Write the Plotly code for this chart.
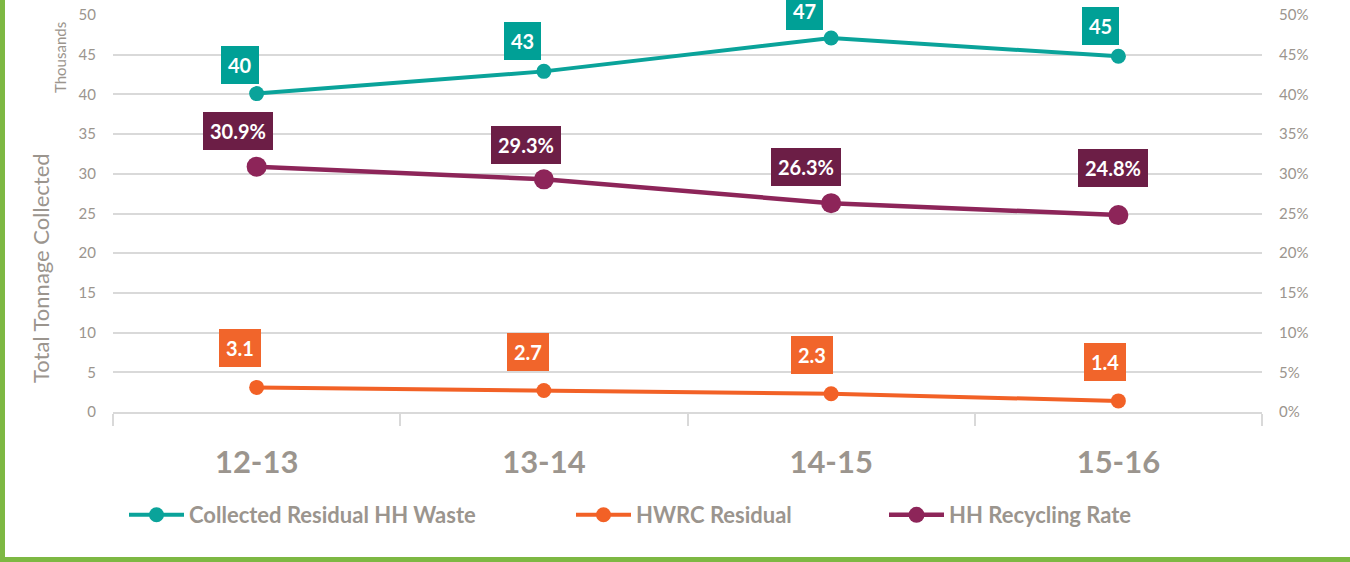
import plotly.graph_objects as go

years = ["12-13", "13-14", "14-15", "15-16"]
collected_residual = [40.1, 42.9, 47.1, 44.8]      # thousands of tonnes
hwrc_residual = [3.1, 2.7, 2.3, 1.4]                # thousands of tonnes
recycling_rate = [0.309, 0.293, 0.263, 0.248]       # share
left_ticks = [0, 5, 10, 15, 20, 25, 30, 35, 40, 45, 50]

# label box offsets (px) relative to each point, as placed in the original
teal_dx, teal_dy = [-17, -21, -27, -18], [10, 11, 8, 11]
orange_dx, orange_dy = [-17, -16, -19, -13], [20, 20, 20, 20]
maroon_dx, maroon_dy = [-19, -18, -25, -5], [17, 15, 17, 28]

TEAL = "#0aa39a"
TEAL_BOX = "#00a096"
ORANGE = "#f26126"
ORANGE_BOX = "#f1652b"
MAROON = "#8d2559"
MAROON_BOX = "#6c1e46"
GRAY = "#9b958e"
GRID = "#d9d9d9"
GREEN = "#7db843"
FONT = "Lato"

PW, PH, L, T = 1149, 397, 113, 15
def px(xp):
    return (xp - L) / PW
def py(yp):
    return (T + PH - yp) / PH

fig = go.Figure()
fig.add_trace(go.Scatter(x=years, y=collected_residual, name="Collected Residual HH Waste",
                         mode="lines+markers", line=dict(color=TEAL, width=4),
                         marker=dict(size=15, color=TEAL), yaxis="y", legend="legend"))
fig.add_trace(go.Scatter(x=years, y=hwrc_residual, name="HWRC Residual",
                         mode="lines+markers", line=dict(color=ORANGE, width=4),
                         marker=dict(size=15, color=ORANGE), yaxis="y", legend="legend2"))
fig.add_trace(go.Scatter(x=years, y=recycling_rate, name="HH Recycling Rate",
                         mode="lines+markers", line=dict(color=MAROON, width=4.5),
                         marker=dict(size=20, color=MAROON), yaxis="y2", legend="legend3"))

label_font = dict(family=FONT, size=20, color="white", weight="bold")
box = dict(showarrow=False, xanchor="center", yanchor="bottom", borderpad=7, borderwidth=0,
           font=label_font)
annotations = []
for x, v, dx, dy in zip(years, collected_residual, teal_dx, teal_dy):
    annotations.append(dict(x=x, y=v, xref="x", yref="y", text=f"{v:.0f}",
                            xshift=dx, yshift=dy, bgcolor=TEAL_BOX, **box))
for x, v, dx, dy in zip(years, hwrc_residual, orange_dx, orange_dy):
    annotations.append(dict(x=x, y=v, xref="x", yref="y", text=f"{v:.1f}",
                            xshift=dx, yshift=dy, bgcolor=ORANGE_BOX, **box))
for x, v, dx, dy in zip(years, recycling_rate, maroon_dx, maroon_dy):
    annotations.append(dict(x=x, y=v, xref="x", yref="y2", text=f"{v*100:.1f}%",
                            xshift=dx, yshift=dy, bgcolor=MAROON_BOX, **box))

annotations.append(dict(x=px(40), y=py(268), xref="paper", yref="paper", text="Total Tonnage Collected",
                        showarrow=False, textangle=-90, xanchor="center", yanchor="middle",
                        font=dict(family=FONT, size=22, color=GRAY)))
annotations.append(dict(x=px(60), y=py(58), xref="paper", yref="paper", text="Thousands",
                        showarrow=False, textangle=-90, xanchor="center", yanchor="middle",
                        font=dict(family=FONT, size=15, color=GRAY)))

shapes = [
    dict(type="rect", xref="paper", yref="paper", x0=px(0), x1=px(5), y0=py(562), y1=py(0),
         fillcolor=GREEN, line=dict(width=0), layer="above"),
    dict(type="rect", xref="paper", yref="paper", x0=px(0), x1=px(1350), y0=py(562), y1=py(557),
         fillcolor=GREEN, line=dict(width=0), layer="above"),
]

legend_font = dict(family=FONT, size=22, color=GRAY, weight="bold")
def legend_at(xpix):
    return dict(orientation="h", x=px(xpix), xanchor="left", y=py(515), yanchor="middle",
                font=legend_font, itemwidth=55, bgcolor="rgba(0,0,0,0)")

fig.update_layout(
    template="none",
    width=1350, height=562,
    margin=dict(l=L, r=1350 - L - PW, t=T, b=562 - T - PH, autoexpand=False),
    paper_bgcolor="white", plot_bgcolor="white",
    font=dict(family=FONT, color=GRAY),
    showlegend=True,
    legend=legend_at(124),
    legend2=legend_at(571),
    legend3=legend_at(884),
    xaxis=dict(type="category", range=[-0.5, 3.5], showgrid=False, zeroline=False,
               showline=True, linecolor=GRID, linewidth=1.5,
               ticks="outside", tickson="boundaries", ticklen=12, tickcolor=GRID, tickwidth=1.5,
               ticklabelstandoff=22,
               tickfont=dict(family=FONT, size=31, color=GRAY, weight="bold")),
    yaxis=dict(range=[0, 50], tickvals=left_ticks, showgrid=True, gridcolor=GRID, gridwidth=1.5,
               zeroline=False, showline=False, ticks="", ticklabelstandoff=16,
               tickfont=dict(family=FONT, size=15, color=GRAY)),
    yaxis2=dict(range=[0, 0.5], dtick=0.05, tickformat=".0%", overlaying="y", side="right",
                showgrid=False, zeroline=False, showline=False, ticks="", ticklabelstandoff=16,
                tickfont=dict(family=FONT, size=15, color=GRAY)),
    annotations=annotations,
    shapes=shapes,
)

fig.write_html("out.html", config={"displayModeBar": False},
               post_script="document.body.style.margin='0';")
